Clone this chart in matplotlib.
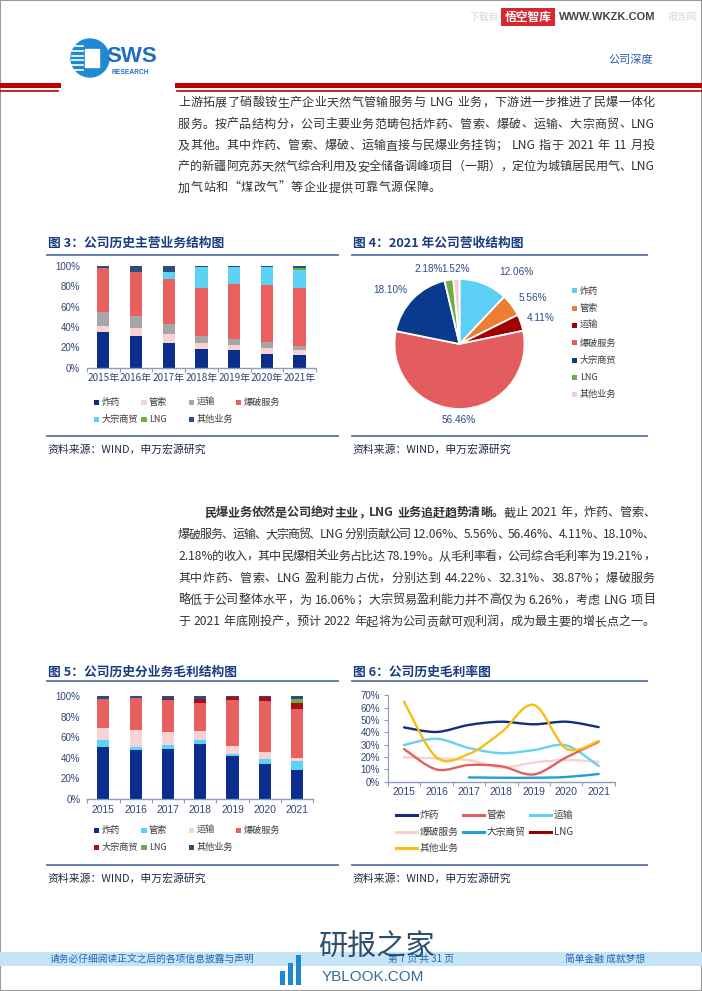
import re
import numpy as np
import matplotlib
matplotlib.use('Agg')
import matplotlib.pyplot as plt
from matplotlib.lines import Line2D
from matplotlib.patches import Rectangle, Circle, PathPatch
from matplotlib.path import Path

plt.rcParams['font.family'] = ['Noto Sans CJK SC', 'DejaVu Sans']

W, H = 702, 991

years = ['2015', '2016', '2017', '2018', '2019', '2020', '2021']
segments = ['炸药', '管索', '运输', '爆破服务', '大宗商贸', 'LNG', '其他业务']

# 图3 revenue structure (%)
rev_explosives = [34.9, 30.9, 24.7, 18.8, 17.4, 13.8, 12.06]
rev_detonators = [6.5, 7.9, 8.5, 5.9, 4.6, 5.3, 5.56]
rev_transport = [13.5, 12.2, 9.9, 6.6, 6.0, 6.2, 4.11]
rev_blasting = [43.5, 42.8, 43.7, 47.3, 54.0, 55.7, 56.46]
rev_trading = [0, 0, 7.0, 20.1, 17.3, 18.0, 18.10]
rev_lng = [0, 0, 0, 0, 0, 0, 2.18]
rev_other = [1.6, 6.2, 6.2, 1.3, 0.7, 1.0, 1.52]

# 图4 2021 revenue pie (%)
pie_values = [12.06, 5.56, 4.11, 56.46, 18.10, 2.18, 1.52]

# 图5 gross profit structure (%)
gp_explosives = [50.2, 47.6, 48.3, 53.2, 41.8, 33.7, 27.8]
gp_detonators = [6.9, 3.0, 4.2, 3.9, 1.9, 4.8, 9.3]
gp_transport = [12.0, 16.2, 12.1, 9.1, 8.2, 7.2, 2.7]
gp_blasting = [28.3, 31.2, 31.5, 27.0, 43.9, 49.8, 47.2]
gp_trading = [0, 0, 1.3, 3.8, 3.5, 3.2, 5.9]
gp_lng = [0, 0, 0, 0, 0, 0, 4.4]
gp_other = [2.6, 2.0, 2.6, 3.0, 0.7, 1.3, 2.5]

# 图6 gross margin (%)
nan = np.nan
gm_explosives = [44.0, 40.3, 46.0, 48.6, 46.5, 48.6, 44.22]
gm_detonators = [26.5, 9.9, 13.5, 12.5, 5.9, 19.7, 32.31]
gm_transport = [29.7, 34.8, 27.3, 23.1, 25.6, 29.4, 12.7]
gm_blasting = [19.7, 18.9, 17.4, 11.5, 15.5, 17.6, 16.06]
gm_trading = [nan, nan, 3.5, 3.2, 3.2, 3.8, 6.26]
gm_lng = [nan, nan, nan, nan, nan, nan, 38.87]
gm_other = [64.9, 19.7, 22.5, 40.0, 62.2, 26.8, 33.0]

C_TITLE = '#1B3C82'
C_RULE = '#5A74A8'
C_TICK = '#33457A'
C_AXIS = '#8C9CBC'
C_BODY = '#333333'

fig = plt.figure(figsize=(W / 100, H / 100), dpi=100)
fig.patch.set_facecolor('white')


def px_axes(l, t, r, b):
    return fig.add_axes([l / W, 1 - b / H, (r - l) / W, (b - t) / H])


def ptext(x, y, s, **kw):
    return fig.text(x / W, 1 - y / H, s, **kw)


def pline(x0, x1, y, color, lw):
    fig.add_artist(Line2D([x0 / W, x1 / W], [1 - y / H, 1 - y / H], color=color, lw=lw))


def prect(x, y, w, h, color, **kw):
    fig.add_artist(Rectangle((x / W, 1 - (y + h) / H), w / W, h / H, facecolor=color,
                             edgecolor='none', transform=fig.transFigure, **kw))


def para_line(y, x0, x1, parts, size=8.7, color=C_BODY, justify=True):
    # lay out tokens one by one so the line can be justified to x1
    r = fig.canvas.get_renderer()
    items = []
    for s, wt in parts:
        for tok in re.findall(r'[A-Za-z0-9.%]+|\s|.', s):
            if tok.isspace():
                items.append((None, size * 100 / 72 * 0.3))
            else:
                a = ptext(0, y + 4.3, tok, fontsize=size, color=color, weight=wt, va='baseline')
                items.append((a, a.get_window_extent(r).width))
    total = sum(w for _, w in items)
    gap = (x1 - x0 - total) / (len(items) - 1) if justify else 0.4
    x = x0
    for a, w in items:
        if a is not None:
            a.set_x(x / W)
        x += w + gap


# ---------------- page frame / header ----------------
fig.add_artist(Rectangle((0, 0), 1, 1, transform=fig.transFigure, fill=False,
                         edgecolor='#9a9a9a', lw=1.5))
ptext(470, 17, '下载自', fontsize=7, color='#d8d8d8', va='center')
prect(501, 8, 54, 18, '#d7282f')
ptext(528, 17, '悟空智库', fontsize=8.5, color='white', weight='bold', va='center', ha='center')
ptext(559, 17, 'WWW.WKZK.COM', fontsize=8, color='#444444', weight='bold', va='center',
      family=['Liberation Sans'])
ptext(668, 17, '报告网', fontsize=7, color='#d8d8d8', va='center')

ptext(608, 60, '公司深度', fontsize=8, color='#2A5CAA', va='center')
pline(0, 58, 84.5, '#C00000', 3.6)
pline(0, 58, 91, '#C00000', 1.2)
pline(177, 702, 84.5, '#C00000', 3.6)
pline(177, 702, 91, '#C00000', 1.2)

logo = px_axes(70, 38, 110, 78)
logo.set_xlim(-1, 1)
logo.set_ylim(-1, 1)
logo.axis('off')
logo.add_patch(Circle((0, 0), 0.95, color='#1F8AD2'))
logo.add_patch(Rectangle((-0.25, -0.45), 0.7, 0.9, color='white'))
for yy in np.linspace(-0.6, 0.6, 6):
    logo.plot([-0.9, -0.35], [yy, yy], color='white', lw=1.2)
ptext(106, 57, 'SWS', fontsize=16, weight='bold', color='#1F6EC0', va='center',
      family=['Liberation Sans'])
ptext(112, 72, 'RESEARCH', fontsize=4.8, weight='bold', color='#1F6EC0', va='center',
      family=['Liberation Sans'])

# ---------------- paragraph 1 ----------------
p1 = ['上游拓展了硝酸铵生产企业天然气管输服务与 LNG 业务，下游进一步推进了民爆一体化',
      '服务。按产品结构分，公司主要业务范畴包括炸药、管索、爆破、运输、大宗商贸、LNG',
      '及其他。其中炸药、管索、爆破、运输直接与民爆业务挂钩； LNG 指于 2021 年 11 月投',
      '产的新疆阿克苏天然气综合利用及安全储备调峰项目（一期），定位为城镇居民用气、LNG',
      '加气站和“煤改气”等企业提供可靠气源保障。']
for i, line in enumerate(p1):
    para_line(102 + i * 21.3, 178, 655, [(line, 'normal')], justify=i < len(p1) - 1)

# ---------------- paragraph 2 ----------------
p2 = [[('民爆业务依然是公司绝对主业，LNG 业务追赶趋势清晰。', 'bold'), ('截止 2021 年，炸药、管索、', 'normal')],
      [('爆破服务、运输、大宗商贸、LNG 分别贡献公司 12.06%、5.56%、56.46%、4.11%、18.10%、', 'normal')],
      [('2.18%的收入，其中民爆相关业务占比达 78.19%。从毛利率看，公司综合毛利率为 19.21%，', 'normal')],
      [('其中炸药、管索、LNG 盈利能力占优，分别达到 44.22%、32.31%、38.87%；爆破服务', 'normal')],
      [('略低于公司整体水平，为 16.06%；大宗贸易盈利能力并不高仅为 6.26%，考虑 LNG 项目', 'normal')],
      [('于 2021 年底刚投产，预计 2022 年起将为公司贡献可观利润，成为最主要的增长点之一。', 'normal')]]
for i, parts in enumerate(p2):
    para_line(512 + i * 21.8, 204 if i == 0 else 178, 655, parts)


# ---------------- chart helpers ----------------
def chart_frame(x0, x1, title, ytitle, yrule, ybottom):
    ptext(x0 + 1, ytitle, title, fontsize=9.2, weight='bold', color=C_TITLE, va='center')
    pline(x0, x1, yrule, C_RULE, 1.3)
    pline(x0, x1, ybottom, C_RULE, 1.3)
    ptext(x0, ybottom + 13.5, '资料来源：WIND，申万宏源研究', fontsize=7.8, color='#1E2A4A', va='center')


def style_cat_axis(ax, nlab):
    ax.set_xlim(-0.5, nlab - 0.5)
    for s in ['top', 'right', 'left']:
        ax.spines[s].set_visible(False)
    ax.spines['bottom'].set_color(C_AXIS)
    ax.spines['bottom'].set_linewidth(1.0)
    ax.set_xticks(np.arange(-0.5, nlab), minor=True)
    ax.tick_params(axis='x', which='major', length=0, pad=4.5, labelsize=7, labelcolor=C_TICK)
    ax.tick_params(axis='x', which='minor', length=3, color=C_AXIS, width=0.8)
    ax.tick_params(axis='y', length=0, pad=5, labelsize=7, labelcolor=C_TICK)
    ax.set_facecolor('none')


def stacked(ax, series, colors, labels):
    x = np.arange(len(labels))
    bottom = np.zeros(len(labels))
    for vals, c in zip(series, colors):
        v = np.array(vals, dtype=float)
        ax.bar(x, v, 0.38, bottom=bottom, color=c, edgecolor='none')
        bottom += v
    ax.set_ylim(0, 100)
    ax.set_yticks(range(0, 101, 20))
    ax.set_yticklabels([f'{t}%' for t in range(0, 101, 20)], family=['Liberation Sans'])
    ax.set_xticks(x)
    ax.set_xticklabels(labels)
    style_cat_axis(ax, len(labels))


def square_legend(names, colors, x0, y0, dx, dy, ncol):
    for i, (n, c) in enumerate(zip(names, colors)):
        cx = x0 + (i % ncol) * dx
        cy = y0 + (i // ncol) * dy
        prect(cx - 2.7, cy - 2.7, 5.4, 5.4, c)
        ptext(cx + 5, cy, n, fontsize=6.6, color='#3C3C3C', va='center')


# ---------------- 图3 ----------------
c3 = ['#0B2D8C', '#F8D3D3', '#A6A6A6', '#E8605F', '#5CD2F5', '#70AD47', '#2B4C7E']
chart_frame(47, 338, '图 3：公司历史主营业务结构图', 243, 254.5, 435.7)
ax3 = px_axes(86.9, 266, 316, 367.7)
stacked(ax3, [rev_explosives, rev_detonators, rev_transport, rev_blasting, rev_trading, rev_lng, rev_other],
        c3, [y + '年' for y in years])
ax3.tick_params(axis='x', labelsize=7.2, pad=4)
square_legend(segments, c3, 96.7, 402.3, 47.3, 17, 4)

# ---------------- 图4 ----------------
c4 = ['#5BCFF5', '#ED7D31', '#A00000', '#E35D5F', '#0A3A8E', '#70AD47', '#F4CCCC']
chart_frame(352, 647, '图 4：2021 年公司营收结构图', 243, 254.5, 435.7)
ax4 = px_axes(459.5 - 80, 344 - 80, 459.5 + 80, 344 + 80)
ax4.pie(pie_values, colors=c4, startangle=90, counterclock=False, radius=1,
        wedgeprops=dict(edgecolor='white', linewidth=1.3))
ax4.set_xlim(-80 / 65, 80 / 65)
ax4.set_ylim(-80 / 65, 80 / 65)
ax4.set_aspect('equal')
pie_label_pos = [(516.7, 272), (533, 297.7), (541, 318), (459, 420), (390, 290), (428.5, 269), (455.5, 269)]
for v, (lx, ly) in zip(pie_values, pie_label_pos):
    ptext(lx, ly, f'{v:.2f}%', fontsize=7.2, color='#2E4A8A', ha='center', va='center',
          family=['Liberation Sans'])
for i, (n, c) in enumerate(zip(segments, c4)):
    yy = 291 + i * 17.3
    prect(571.5, yy - 2.5, 5, 5, c)
    ptext(580, yy, n, fontsize=6.6, color='#3C3C3C', va='center')

# ---------------- 图5 ----------------
c5 = ['#0B2D8C', '#5CD2F5', '#F8D3D3', '#E8605F', '#A50F15', '#70AD47', '#2B4C7E']
chart_frame(47, 338, '图 5：公司历史分业务毛利结构图', 672.3, 681, 865)
ax5 = px_axes(87.2, 696, 313.3, 799)
stacked(ax5, [gp_explosives, gp_detonators, gp_transport, gp_blasting, gp_trading, gp_lng, gp_other],
        c5, years)
for lab in ax5.get_xticklabels():
    lab.set_family(['Liberation Sans'])
ax5.tick_params(axis='x', labelsize=7.4, pad=4)
square_legend(segments, c5, 96.7, 830.7, 47.3, 16.6, 4)


# ---------------- 图6 ----------------
def smooth_path(xs, ys):
    pts = np.column_stack([xs, ys])
    n = len(pts)
    verts = [pts[0]]
    codes = [Path.MOVETO]
    for i in range(n - 1):
        p0 = pts[i - 1] if i > 0 else pts[i]
        p1 = pts[i]
        p2 = pts[i + 1]
        p3 = pts[i + 2] if i + 2 < n else pts[i + 1]
        verts += [p1 + (p2 - p0) / 6, p2 - (p3 - p1) / 6, p2]
        codes += [Path.CURVE4] * 3
    return Path(verts, codes)


c6 = ['#0C2F7E', '#E0605F', '#66D1F2', '#F8D0D0', '#1E9FD8', '#9B0000', '#F7BE16']
chart_frame(352, 647, '图 6：公司历史毛利率图', 672.3, 681, 865)
ax6 = px_axes(387.8, 695.3, 614.9, 781.7)
xs = np.arange(len(years))
gm_series = [gm_explosives, gm_detonators, gm_transport, gm_blasting, gm_trading, gm_lng, gm_other]
draw_order = [3, 2, 1, 4, 5, 0, 6]
for k in draw_order:
    v = np.array(gm_series[k], dtype=float)
    ok = ~np.isnan(v)
    if ok.sum() < 2:
        continue
    ax6.add_patch(PathPatch(smooth_path(xs[ok], v[ok]), facecolor='none', edgecolor=c6[k],
                            lw=1.7, capstyle='round'))
ax6.set_ylim(0, 70)
ax6.set_yticks(range(0, 71, 10))
ax6.set_yticklabels([f'{t}%' for t in range(0, 71, 10)], family=['Liberation Sans'])
ax6.set_xticks(xs)
ax6.set_xticklabels(years, family=['Liberation Sans'])
style_cat_axis(ax6, len(years))
ax6.spines['left'].set_visible(True)
ax6.spines['left'].set_color(C_AXIS)
ax6.tick_params(axis='y', length=3, color=C_AXIS, width=0.8, pad=2.5)
ax6.tick_params(axis='x', labelsize=7.4, pad=4)
for i, (n, c) in enumerate(zip(segments, c6)):
    lx = 395.7 + (i % 3) * 67.3
    ly = 815 + (i // 3) * 16.6
    fig.add_artist(Line2D([lx / W, (lx + 21) / W], [1 - ly / H] * 2, color=c, lw=2.2))
    ptext(lx + 23.5, ly, n, fontsize=7, color='#3C3C3C', va='center')

# ---------------- footer ----------------
prect(0, 952, W, 14, '#C6E4F7')
ptext(50, 959, '请务必仔细阅读正文之后的各项信息披露与声明', fontsize=7, color='#2566B0', va='center')
ptext(388, 959, '第 7 页 共 31 页', fontsize=7, color='#2566B0', va='center')
ptext(565, 959, '简单金融 成就梦想', fontsize=7, color='#2566B0', va='center')
for i, hh in enumerate([14, 22, 30]):
    prect(280 + i * 8, 985 - hh, 5, hh, '#1E88D0')
ptext(318, 948, '研报之家', fontsize=21, color='#2F4F6F', va='center')
ptext(322, 977, 'YBLOOK.COM', fontsize=11, color='#2F6FA0', va='center', family=['Liberation Sans'])

fig.savefig('out.png', dpi=100)
